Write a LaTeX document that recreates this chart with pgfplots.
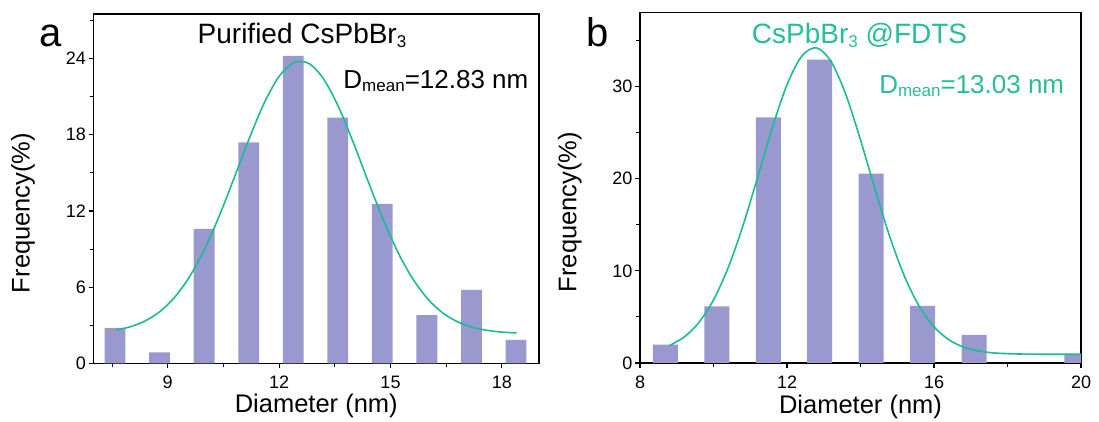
\documentclass[border=0pt]{standalone}
\usepackage{fontspec}
\setmainfont{Liberation Sans}
\usepackage{pgfplots}
\pgfplotsset{compat=1.18}
\definecolor{barc}{RGB}{153,153,208}
\definecolor{fitc}{RGB}{26,188,150}
\definecolor{tealt}{RGB}{38,190,150}
\newcommand{\fs}[1]{\fontsize{#1}{#1}\selectfont}
\newcommand{\sbs}[2]{\raisebox{-#2}{\fs{17}#1}}
\pgfplotsset{myax/.style={
  scale only axis, anchor=south west,
  axis line style={line width=1.2pt},
  tick align=outside, xtick pos=bottom, ytick pos=left,
  major tick length=5pt, minor tick length=4pt,
  tick style={line width=1.1pt, black},
  tick label style={font=\fs{18}},
  /pgf/number format/assume math mode=true,
  label style={font=\fs{25.5}},
  xticklabel style={yshift=-4pt},
  yticklabel style={xshift=1pt},
  ymin=0, clip mode=individual,
}}
\begin{document}
\begin{tikzpicture}[x=1pt,y=1pt]
\useasboundingbox (0,0) rectangle (1099,422);
% ---------- panel a ----------
\begin{axis}[myax,
  at={(93.5pt,58.5pt)}, width=445.5pt, height=349.5pt,
  xmin=7, xmax=19, ymax=27.5,
  xtick={9,12,15,18}, minor xtick={7.5,10.5,13.5,16.5},
  ytick={0,6,12,18,24}, minor ytick={3,9,15,21,27},
  xlabel={Diameter (nm)}, ylabel={Frequency(\%)},
  xlabel style={at={(axis description cs:0.5,-0.1416)}, anchor=base},
  ylabel style={at={(axis description cs:-0.158,0.4306)}, anchor=center},
]
\addplot[ybar, bar width=0.56, fill=barc, draw=none] coordinates {
 (7.58,2.8) (8.78,0.88) (9.98,10.6) (11.18,17.4) (12.38,24.2)
 (13.58,19.35) (14.78,12.55) (15.98,3.8) (17.18,5.8) (18.38,1.85)};
\addplot[fitc, line width=1.6pt, smooth, mark=none] coordinates {
 (7.6,2.63) (8.0,2.90) (8.4,3.36) (8.8,4.11) (9.2,5.26) (9.6,6.89)
 (10.0,9.05) (10.4,11.70) (10.8,14.69) (11.2,17.74) (11.6,20.51) (12.0,22.59)
 (12.4,23.68) (12.8,23.61) (13.2,22.38) (13.6,20.19) (14.0,17.37) (14.4,14.31)
 (14.8,11.35) (15.2,8.75) (15.6,6.66) (16.0,5.09) (16.4,3.99) (16.8,3.29)
 (17.2,2.85) (17.6,2.61) (18.0,2.47) (18.4,2.41)};
\end{axis}
% ---------- panel b ----------
\begin{axis}[myax,
  at={(640pt,59pt)}, width=441pt, height=350.3pt,
  xmin=8, xmax=20, ymax=38,
  xtick={8,12,16,20}, minor xtick={10,14,18},
  ytick={0,10,20,30}, minor ytick={5,15,25,35},
  xlabel={Diameter (nm)}, ylabel={Frequency(\%)},
  xlabel style={at={(axis description cs:0.5,-0.143)}, anchor=base},
  ylabel style={at={(axis description cs:-0.159,0.431)}, anchor=center},
]
\addplot[ybar, bar width=0.68, fill=barc, draw=none] coordinates {
 (8.69,2.0) (10.09,6.15) (11.49,26.65) (12.89,32.9) (14.29,20.55)
 (15.69,6.2) (17.09,3.05) (19.89,0.92)};
\addplot[fitc, line width=1.6pt, smooth, mark=none] coordinates {
 (8.8,1.89) (9.2,2.81) (9.6,4.38) (10.0,6.84) (10.4,10.35) (10.8,14.88)
 (11.2,20.14) (11.6,25.52) (12.0,30.18) (12.4,33.28) (12.8,34.19) (13.2,32.69)
 (13.6,29.13) (14.0,24.20) (14.4,18.79) (14.8,13.66) (15.2,9.37) (15.6,6.13)
 (16.0,3.92) (16.4,2.53) (16.8,1.73) (17.2,1.31) (17.6,1.10) (18.0,1.01)
 (18.4,0.97) (18.8,0.95) (19.2,0.95) (19.6,0.95) (20.0,0.95)};
\end{axis}
% ---------- texts ----------
\node[anchor=base west, inner sep=0pt, font=\fs{40}] at (39.3,375.3) {a};
\node[anchor=base west, inner sep=0pt, font=\fs{40}] at (586,375.3) {b};
\node[anchor=base, inner sep=0pt, font=\fs{28}] at (302,378.5) {Purified CsPbBr\sbs{3}{4pt}};
\node[anchor=base, inner sep=0pt, font=\fs{26}] at (435.9,333.7) {D\sbs{mean}{3.5pt}=12.83 nm};
\node[anchor=base, inner sep=0pt, font=\fs{28}, text=tealt] at (859.5,378) {CsPbBr\sbs{3}{4pt} @FDTS};
\node[anchor=base, inner sep=0pt, font=\fs{26}, text=tealt] at (971.7,328.7) {D\sbs{mean}{3.5pt}=13.03 nm};
\end{tikzpicture}
\end{document}
